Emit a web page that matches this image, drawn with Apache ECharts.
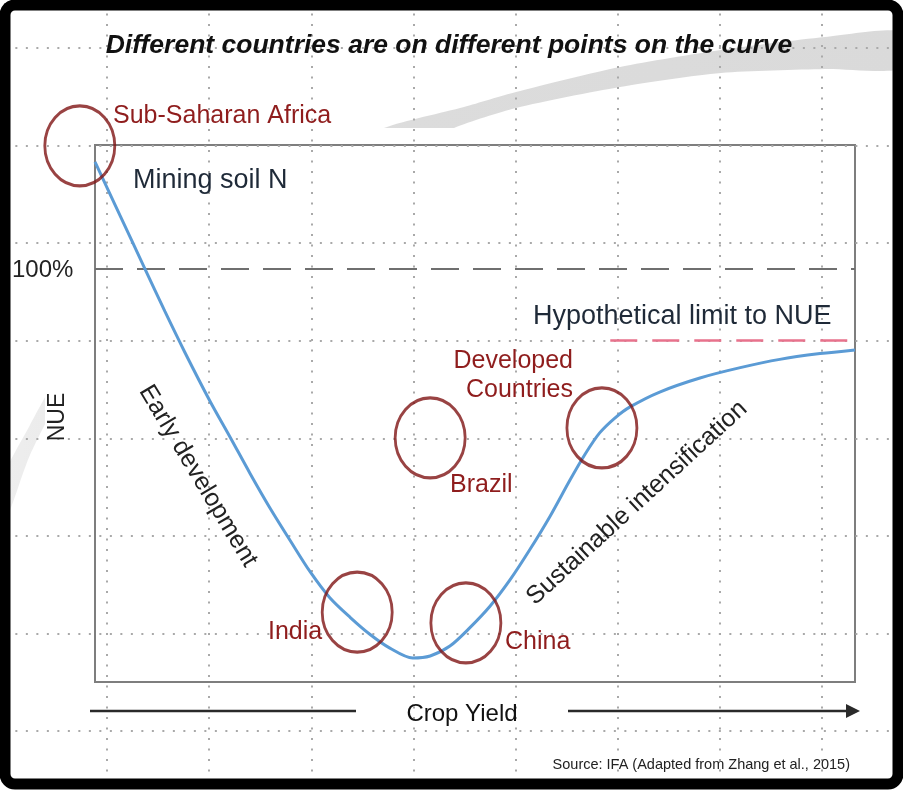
<!DOCTYPE html>
<html>
<head>
<meta charset="utf-8">
<title>NUE along the crop yield curve</title>
<script src="https://cdn.jsdelivr.net/npm/echarts@6/dist/echarts.min.js"></script>
<style>
  html, body { margin: 0; padding: 0; background: #fff; }
  #chart { width: 903px; height: 790px; }
</style>
</head>
<body>
<div id="chart"></div>
<script>
// NUE curve: crop yield (0-100, no unit) vs NUE (%)
const cropYield = [0, 3.3, 6.6, 9.2, 11.8, 15.1, 17.8, 20.4, 23.0, 25.7, 28.3, 30.9, 33.6, 36.2,
  38.8, 41.8, 44.1, 46.7, 49.3, 52.0, 54.6, 57.2, 59.9, 62.5, 64.5, 66.4, 68.4, 70.4, 74.3, 79.6,
  84.9, 90.1, 95.4, 100];
const nue = [125.9, 112.9, 99.9, 89.7, 79.9, 68.1, 59.2, 50.5, 42.2, 34.2, 26.7, 20.4, 15.6, 11.5,
  8.2, 5.8, 6.3, 8.7, 13.1, 18.4, 24.7, 32.0, 40.2, 48.9, 55.2, 60.3, 63.9, 66.6, 70.2, 73.6,
  76.1, 78.1, 79.5, 80.4];

// where each group of countries sits
const regions = ['Sub-Saharan Africa', 'Brazil', 'Developed Countries', 'India', 'China'];
const regionYield = [-2.0, 44.1, 66.7, 34.5, 48.8];
const regionNue = [129.8, 59.1, 61.5, 16.9, 14.3];

// reference lines
const nueFull = 100;
const nueLimit = 82.8;
const limitFrom = 67.8;
const limitTo = 99.4;

const FONT = '"Liberation Sans", Arial, Helvetica, sans-serif';
const RED = '#8f1d1d';
const INK = '#1f2a38';

const chart = echarts.init(document.getElementById('chart'), null, { renderer: 'canvas' });

function label(text, x, y, size, color, extra) {
  const o = extra || {};
  return {
    type: 'text',
    x: x,
    y: y,
    rotation: o.rotation || 0,
    z: 50,
    silent: true,
    style: {
      text: text,
      fill: color,
      font: (o.font || '') + ' ' + size + 'px ' + FONT,
      align: o.align || 'left',
      verticalAlign: 'middle',
      textAlign: o.align || 'left',
      textVerticalAlign: 'middle',
      lineHeight: o.lineHeight
    }
  };
}

// the light swoosh behind the slide, and the white panel that hides most of it
const swoosh = [
  [0, 485], [30, 425], [60, 372], [120, 290], [200, 220], [300, 168], [384, 128], [464, 107],
  [516, 92], [620, 67], [721, 50], [825, 37], [905, 32],
  [905, 68], [825, 69], [721, 73], [620, 87], [516, 108], [454, 128], [350, 175],
  [220, 250], [110, 335], [60, 398], [30, 455], [12, 505], [0, 535]
];

const dotted = { color: '#a9a9a9', width: 2, type: [2, 8.5] };

const option = {
  animation: false,
  backgroundColor: '#fff',
  grid: [
    // slide guide grid (dotted)
    { left: 4.86, right: -21.2, top: -49.57, bottom: -38.57, show: false, outerBoundsMode: 'none' },
    // the plot frame
    { left: 95, top: 145, width: 760, height: 537, show: true, outerBoundsMode: 'none',
      borderColor: '#7e7e7e', borderWidth: 2, backgroundColor: 'transparent' }
  ],
  xAxis: [
    { gridIndex: 0, type: 'value', min: 0, max: 9, interval: 1,
      axisLine: { show: false }, axisTick: { show: false }, axisLabel: { show: false },
      splitLine: { show: true, lineStyle: dotted } },
    { gridIndex: 1, type: 'value', min: 0, max: 100,
      axisLine: { show: false }, axisTick: { show: false }, axisLabel: { show: false },
      splitLine: { show: false } }
  ],
  yAxis: [
    { gridIndex: 0, type: 'value', min: 0, max: 9, interval: 1,
      axisLine: { show: false }, axisTick: { show: false }, axisLabel: { show: false },
      splitLine: { show: true, lineStyle: dotted } },
    { gridIndex: 1, type: 'value', min: 0, max: 130,
      axisLine: { show: false }, axisTick: { show: false }, axisLabel: { show: false },
      splitLine: { show: false } }
  ],
  series: [
    {
      name: 'NUE',
      type: 'line',
      xAxisIndex: 1,
      yAxisIndex: 1,
      data: cropYield.map((x, i) => [x, nue[i]]),
      smooth: 0.3,
      symbol: 'none',
      clip: false,
      silent: true,
      z: 5,
      lineStyle: { color: '#5b9bd5', width: 3 },
      markLine: {
        silent: true,
        symbol: ['none', 'none'],
        label: { show: false },
        lineStyle: { color: '#6f6f6f', width: 2, type: [28, 14] },
        data: [{ yAxis: nueFull }]
      }
    },
    {
      name: 'Regions',
      type: 'scatter',
      xAxisIndex: 1,
      yAxisIndex: 1,
      data: regions.map((r, i) => ({ name: r, value: [regionYield[i], regionNue[i]] })),
      symbol: 'circle',
      symbolSize: [70, 80],
      clip: false,
      silent: true,
      z: 6,
      itemStyle: { color: 'rgba(0,0,0,0)', borderColor: '#801414', borderWidth: 3 },
      markLine: {
        silent: true,
        symbol: ['none', 'none'],
        label: { show: false },
        lineStyle: { color: '#e8728c', width: 2.5, type: [27, 15] },
        data: [[{ coord: [limitFrom, nueLimit] }, { coord: [limitTo, nueLimit] }]]
      }
    }
  ],
  graphic: [
    { type: 'polygon', z: -10, silent: true, shape: { points: swoosh, smooth: 0.25 },
      style: { fill: new echarts.graphic.LinearGradient(0, 0, 1, 0, [
        { offset: 0, color: '#eeeeee' }, { offset: 0.45, color: '#dcdcdc' }, { offset: 1, color: '#dadada' }
      ]) } },
    { type: 'rect', z: -9, silent: true, shape: { x: 45, y: 128, width: 815, height: 565 },
      style: { fill: '#fff' } },

    label('Different countries are on different points on the curve', 449, 46, 26.5, '#111',
      { font: 'italic bold', align: 'center' }),
    label('Sub-Saharan Africa', 113, 116, 25, RED),
    label('Mining soil N', 133, 181, 27, INK),
    label('100%', 12, 270, 24, '#222'),
    label('NUE', 58, 417, 23, '#222', { align: 'center', rotation: Math.PI / 2 }),
    label('Early development', 198, 476, 25, '#222', { align: 'center', rotation: -59 * Math.PI / 180 }),
    label('Hypothetical limit to NUE', 533, 317, 27, INK),
    label('Developed\nCountries', 573, 376, 25, RED, { align: 'right', lineHeight: 29 }),
    label('Brazil', 450, 485, 25, RED),
    label('Sustainable intensification', 637, 503, 25, '#222', { align: 'center', rotation: 42.5 * Math.PI / 180 }),
    label('India', 268, 632, 25, RED),
    label('China', 505, 642, 25, RED),
    label('Crop Yield', 462, 714, 24, '#111', { align: 'center' }),
    label('Source: IFA (Adapted from Zhang et al., 2015)', 850, 765, 14.5, '#222', { align: 'right' }),

    // crop yield arrow
    { type: 'line', z: 40, silent: true, shape: { x1: 90, y1: 711, x2: 356, y2: 711 },
      style: { stroke: '#2a2a2a', lineWidth: 2.5 } },
    { type: 'line', z: 40, silent: true, shape: { x1: 568, y1: 711, x2: 850, y2: 711 },
      style: { stroke: '#2a2a2a', lineWidth: 2.5 } },
    { type: 'polygon', z: 40, silent: true, shape: { points: [[846, 704], [860, 711], [846, 718]] },
      style: { fill: '#2a2a2a' } },

    // slide border
    { type: 'rect', z: 100, silent: true, shape: { x: 5, y: 5, width: 893, height: 779, r: 10 },
      style: { fill: 'none', stroke: '#000', lineWidth: 11 } }
  ]
};

chart.setOption(option);
</script>
</body>
</html>
